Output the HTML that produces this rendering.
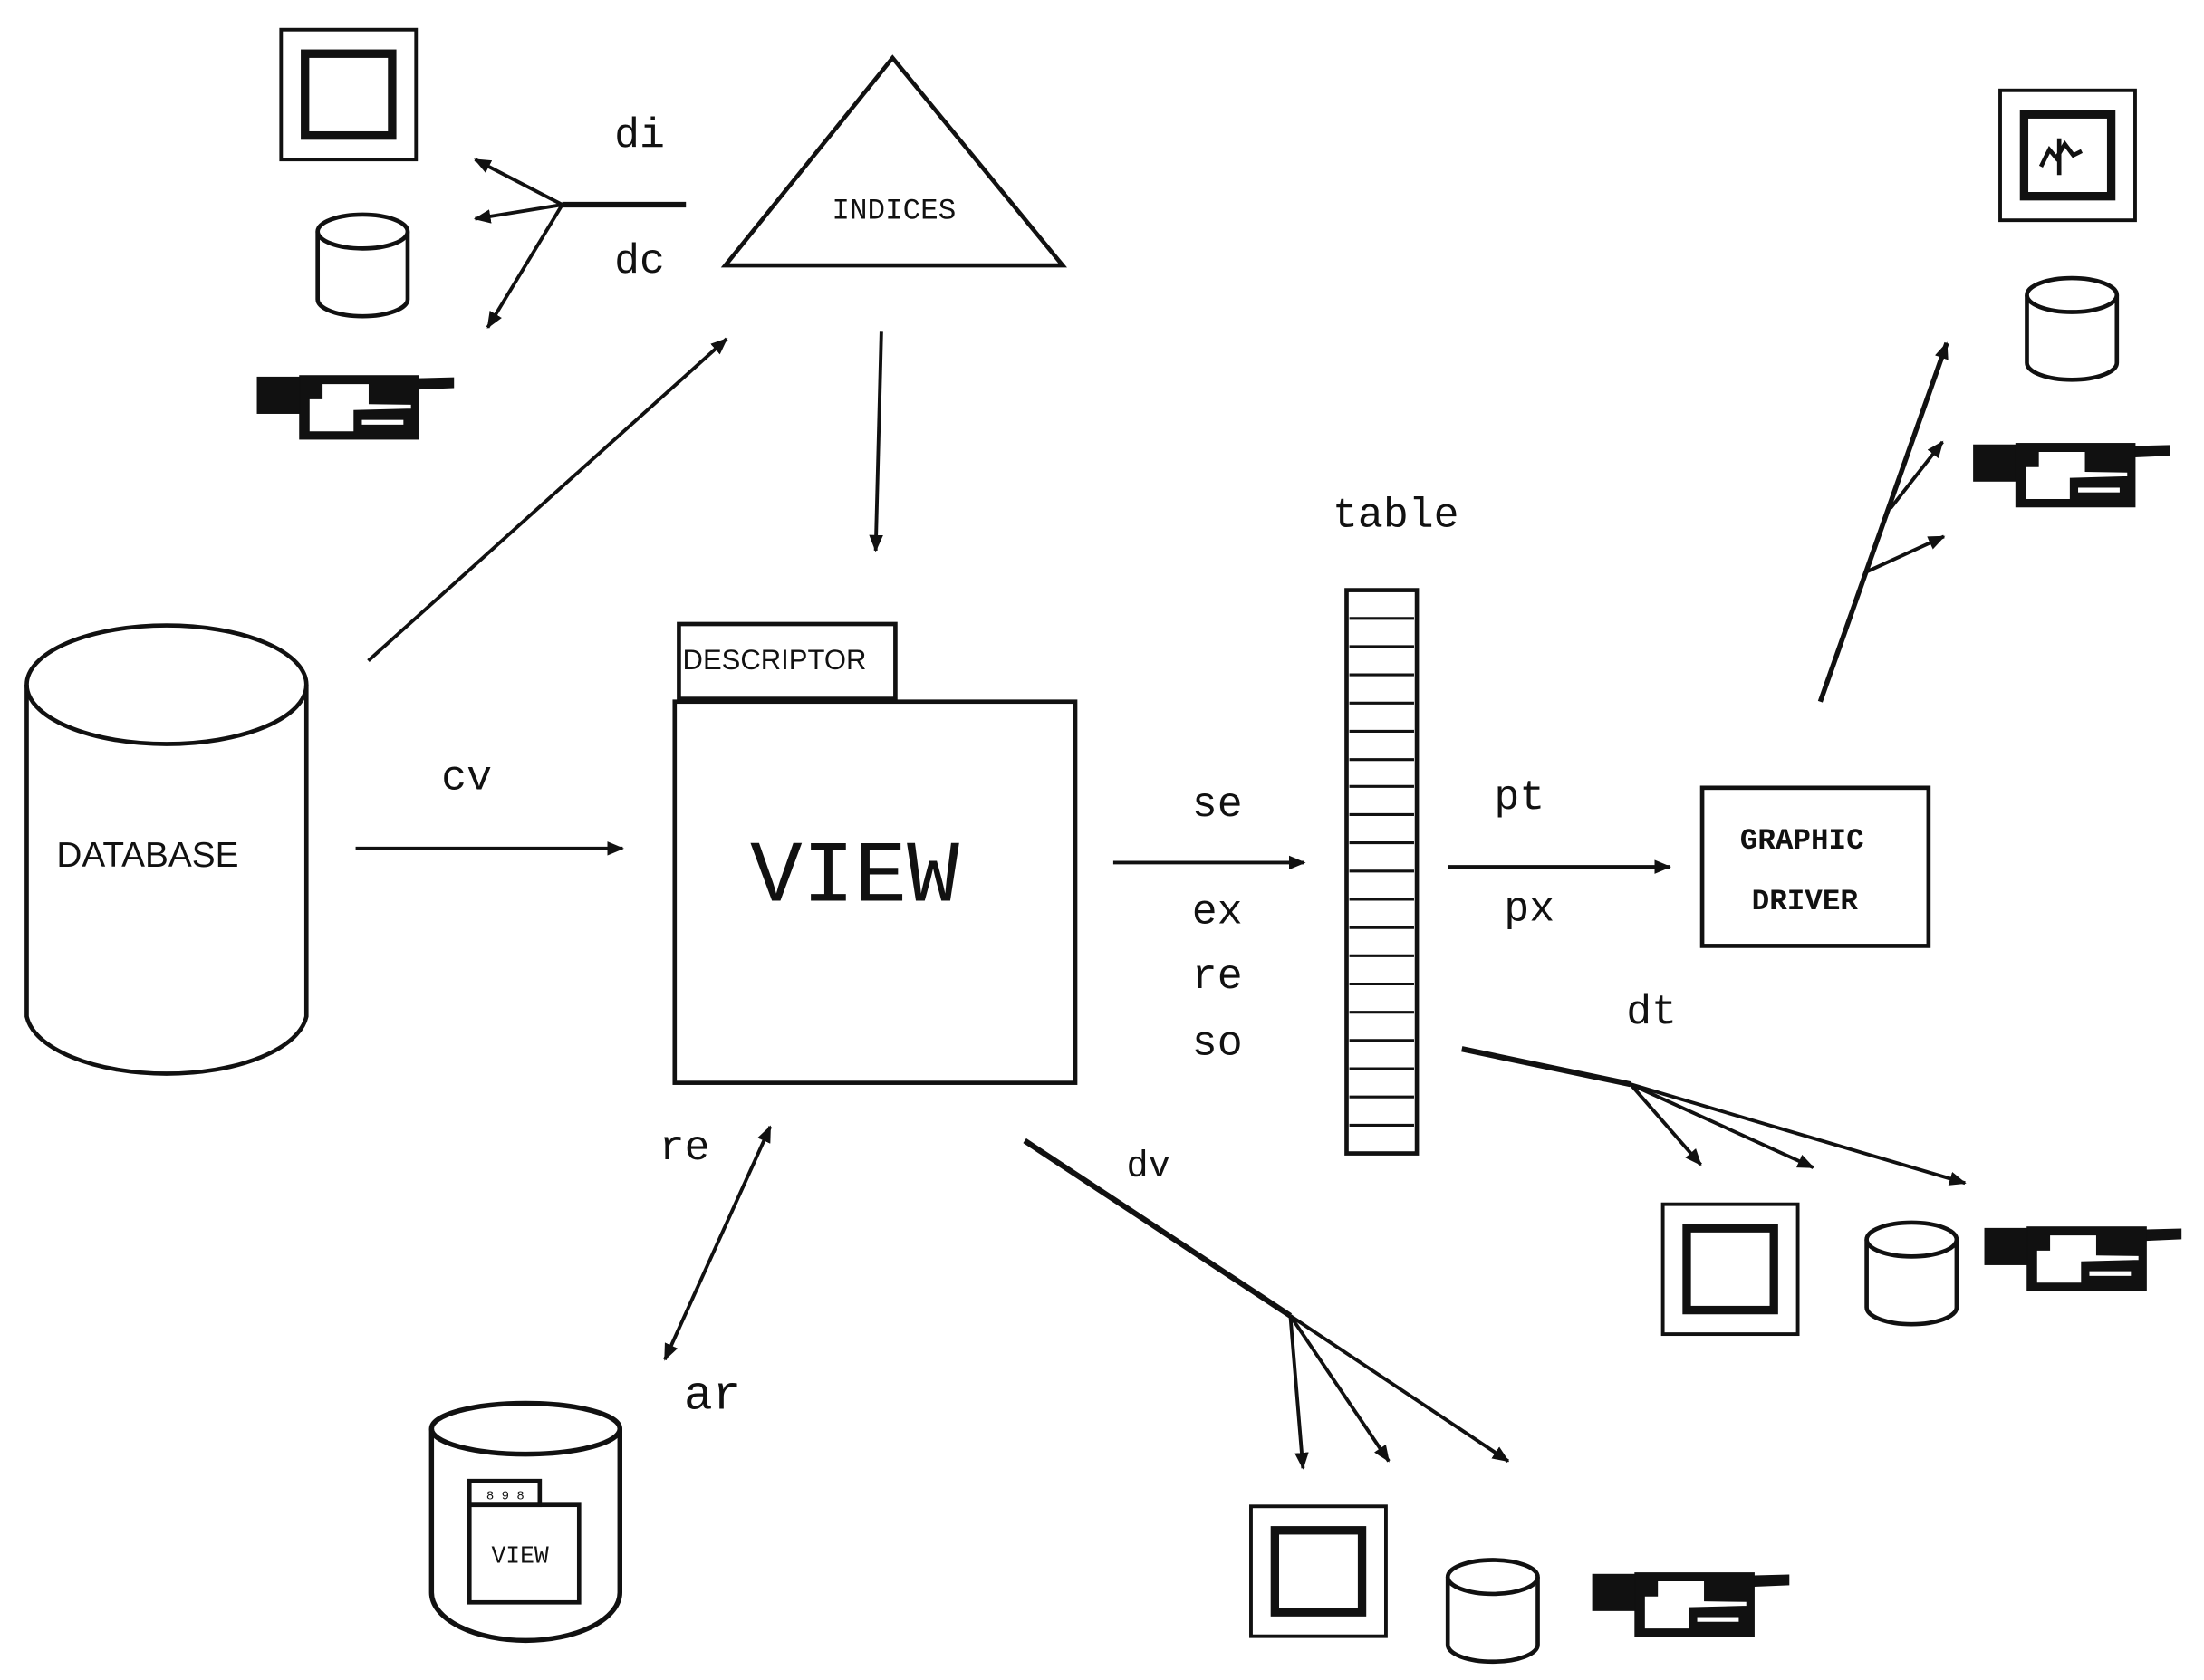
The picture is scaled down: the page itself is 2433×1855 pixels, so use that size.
<!DOCTYPE html>
<html><head><meta charset="utf-8"><style>
html,body{margin:0;padding:0;background:#fff;}
svg{display:block;}
text{font-family:"Liberation Mono","DejaVu Sans Mono",monospace;fill:#111;}
</style></head><body>
<svg width="2433" height="1855" viewBox="0 0 1568 1190" preserveAspectRatio="none" xmlns="http://www.w3.org/2000/svg">
<defs>
<marker id="ah" markerWidth="12" markerHeight="10" refX="11" refY="5" orient="auto" markerUnits="userSpaceOnUse">
<path d="M0,0 L12,5 L0,10 Z" fill="#111"/></marker>
<marker id="ahs" markerWidth="12" markerHeight="10" refX="1" refY="5" orient="auto" markerUnits="userSpaceOnUse">
<path d="M12,0 L0,5 L12,10 Z" fill="#111"/></marker>
<g id="printer" transform="scale(0.215) translate(-40,-55)">
<rect x="40" y="60" width="150" height="120" fill="#111"/>
<rect x="180" y="55" width="395" height="210" fill="#111"/>
<polygon points="575,65 690,62 690,95 575,100" fill="#111"/>
<polygon points="255,82 410,82 410,148 550,150 550,165 360,170 360,240 212,240 212,132 255,132" fill="#fff"/>
<rect x="385" y="200" width="140" height="18" fill="#fff"/>
</g>
<g id="mon">
<rect x="0" y="0" width="96" height="92" fill="none" stroke="#111" stroke-width="2.5"/>
<rect x="17" y="17" width="62" height="58" fill="none" stroke="#111" stroke-width="6"/>
</g>
<g id="cyl">
<path d="M0,14 L0,62 A32,12 0 0 0 64,62 L64,14" fill="none" stroke="#111" stroke-width="3"/>
<ellipse cx="32" cy="14" rx="32" ry="12" fill="none" stroke="#111" stroke-width="3"/>
</g>
</defs>
<g stroke="#111" fill="none" stroke-width="2.5">
<use href="#mon" x="200" y="21"/>
<use href="#cyl" x="226" y="150"/>
<use href="#printer" x="183" y="266"/>
<line x1="400" y1="145" x2="488" y2="145" stroke-width="4"/>
<line x1="400" y1="145" x2="338" y2="113" marker-end="url(#ah)"/>
<line x1="400" y1="145" x2="338" y2="155" marker-end="url(#ah)"/>
<line x1="400" y1="145" x2="347" y2="232" marker-end="url(#ah)"/>
<polygon points="635,41 516,188 756,188" stroke-width="3"/>
<line x1="627" y1="235" x2="623" y2="390" marker-end="url(#ah)"/>
<line x1="262" y1="468" x2="517" y2="240" marker-end="url(#ah)"/>
<path d="M19,485 L19,720 A100,45 0 0 0 218,720 L218,485" stroke-width="3"/>
<ellipse cx="118.5" cy="485" rx="99.5" ry="42" stroke-width="3"/>
<line x1="253" y1="601" x2="443" y2="601" marker-end="url(#ah)"/>
<rect x="483" y="442" width="154" height="53" stroke-width="3"/>
<rect x="480" y="497" width="285" height="270" stroke-width="3"/>
<line x1="792" y1="611" x2="928" y2="611" marker-end="url(#ah)"/>
<rect x="958" y="418" width="50" height="399" stroke-width="3"/>
</g>
<g stroke="#111" stroke-width="2">
<line x1="960" y1="438" x2="1006" y2="438"/><line x1="960" y1="458" x2="1006" y2="458"/>
<line x1="960" y1="478" x2="1006" y2="478"/><line x1="960" y1="498" x2="1006" y2="498"/>
<line x1="960" y1="518" x2="1006" y2="518"/><line x1="960" y1="538" x2="1006" y2="538"/>
<line x1="960" y1="557" x2="1006" y2="557"/><line x1="960" y1="577" x2="1006" y2="577"/>
<line x1="960" y1="597" x2="1006" y2="597"/><line x1="960" y1="617" x2="1006" y2="617"/>
<line x1="960" y1="637" x2="1006" y2="637"/><line x1="960" y1="657" x2="1006" y2="657"/>
<line x1="960" y1="677" x2="1006" y2="677"/><line x1="960" y1="697" x2="1006" y2="697"/>
<line x1="960" y1="717" x2="1006" y2="717"/><line x1="960" y1="737" x2="1006" y2="737"/>
<line x1="960" y1="757" x2="1006" y2="757"/><line x1="960" y1="777" x2="1006" y2="777"/>
<line x1="960" y1="797" x2="1006" y2="797"/>
</g>
<g stroke="#111" fill="none" stroke-width="2.5">
<line x1="1030" y1="614" x2="1188" y2="614" marker-end="url(#ah)"/>
<rect x="1211" y="558" width="161" height="112" stroke-width="3"/>
<line x1="1295" y1="497" x2="1385" y2="243" stroke-width="3.5" marker-end="url(#ah)"/>
<line x1="1328" y1="405" x2="1383" y2="380" marker-end="url(#ah)"/>
<line x1="1345" y1="360" x2="1382" y2="313" marker-end="url(#ah)"/>
<use href="#mon" x="1423" y="64"/>
<use href="#cyl" x="1442" y="195"/>
<use href="#printer" x="1404" y="314"/>
<line x1="1040" y1="743" x2="1160" y2="768" stroke-width="4"/>
<line x1="1160" y1="768" x2="1398" y2="838" marker-end="url(#ah)"/>
<line x1="1160" y1="768" x2="1210" y2="825" marker-end="url(#ah)"/>
<line x1="1160" y1="768" x2="1290" y2="827" marker-end="url(#ah)"/>
<use href="#mon" x="1183" y="853"/>
<use href="#cyl" x="1328" y="864"/>
<use href="#printer" x="1412" y="869"/>
<line x1="729" y1="808" x2="918" y2="932" stroke-width="4"/>
<line x1="918" y1="932" x2="1073" y2="1035" marker-end="url(#ah)"/>
<line x1="918" y1="932" x2="927" y2="1040" marker-end="url(#ah)"/>
<line x1="918" y1="932" x2="988" y2="1035" marker-end="url(#ah)"/>
<use href="#mon" x="890" y="1067"/>
<use href="#cyl" x="1030" y="1103"/>
<use href="#printer" x="1133" y="1114"/>
<line x1="548" y1="798" x2="473" y2="963" marker-start="url(#ahs)" marker-end="url(#ah)"/>
<path d="M307,1012 L307,1128 A67,34 0 0 0 441,1128 L441,1012" stroke-width="3.5"/>
<ellipse cx="374" cy="1012" rx="67" ry="18" stroke-width="3.5"/>
<rect x="334" y="1049" width="50" height="17" stroke-width="3"/>
<rect x="334" y="1066" width="78" height="69" stroke-width="3"/>
</g>
<g font-size="30">
<text x="455" y="104" text-anchor="middle">di</text>
<text x="455" y="193" text-anchor="middle">dc</text>
<text x="332" y="559" text-anchor="middle">cv</text>
<text x="866" y="578" text-anchor="middle">se</text>
<text x="866" y="654" text-anchor="middle">ex</text>
<text x="866" y="700" text-anchor="middle">re</text>
<text x="866" y="747" text-anchor="middle">so</text>
<text x="993" y="373" text-anchor="middle">table</text>
<text x="1081" y="573" text-anchor="middle">pt</text>
<text x="1088" y="652" text-anchor="middle">px</text>
<text x="1175" y="725" text-anchor="middle">dt</text>
<text x="817" y="833" text-anchor="middle" font-size="26">dv</text>
<text x="487" y="821" text-anchor="middle">re</text>
<text x="507" y="998" text-anchor="middle" font-size="34">ar</text>
</g>
<text x="636" y="155" text-anchor="middle" font-size="21">INDICES</text>
<text x="105" y="614" text-anchor="middle" font-size="25" style="font-family:'Liberation Sans Narrow','Liberation Sans',sans-serif">DATABASE</text>
<text x="551" y="474" text-anchor="middle" font-size="20" style="font-family:'Liberation Sans Narrow','Liberation Sans',sans-serif">DESCRIPTOR</text>
<text x="608" y="638" text-anchor="middle" font-size="62">VIEW</text>
<text x="1282" y="601" text-anchor="middle" font-size="21" font-weight="bold">GRAPHIC</text>
<text x="1284" y="644" text-anchor="middle" font-size="21" font-weight="bold">DRIVER</text>
<text x="370" y="1107" text-anchor="middle" font-size="17">VIEW</text>
<text x="346" y="1062" font-size="9">8 9 8</text>
<path d="M1452,118 l6,-12 l5,6 l6,-10 l6,8 l6,-3 M1465,98 l0,26" stroke="#111" stroke-width="3" fill="none"/>
</svg>
</body></html>
